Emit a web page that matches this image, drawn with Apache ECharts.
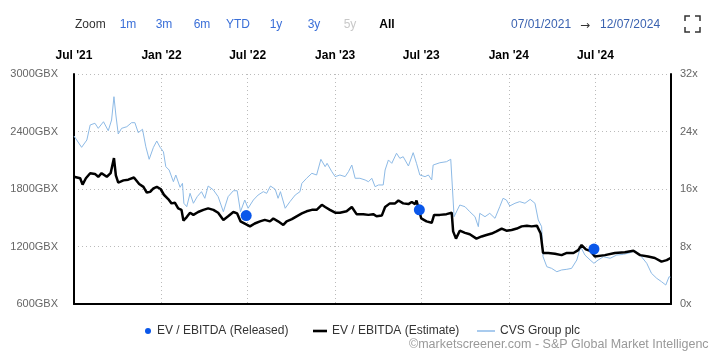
<!DOCTYPE html>
<html>
<head>
<meta charset="utf-8">
<script src="https://cdn.jsdelivr.net/npm/echarts@6/dist/echarts.min.js"></script>
<style>
html,body{margin:0;padding:0;background:#fff;}
#chart{width:709px;height:355px;}
</style>
</head>
<body>
<div id="chart"></div>
<script>
// ---- Data ----
const priceDates = ['2021-07-01','2021-07-17','2021-07-28','2021-08-04','2021-08-14','2021-08-21','2021-09-01','2021-09-11','2021-09-18','2021-09-23','2021-09-27','2021-10-02','2021-10-09','2021-10-20','2021-10-30','2021-11-06','2021-11-13','2021-11-22','2021-11-29','2021-12-06','2021-12-15','2021-12-22','2021-12-29','2022-01-05','2022-01-10','2022-01-17','2022-01-26','2022-01-31','2022-02-09','2022-02-14','2022-02-17','2022-02-23','2022-03-02','2022-03-09','2022-03-17','2022-03-26','2022-04-02','2022-04-09','2022-04-20','2022-04-30','2022-05-11','2022-05-21','2022-06-01','2022-06-09','2022-06-16','2022-06-25','2022-07-02','2022-07-13','2022-07-23','2022-08-03','2022-08-10','2022-08-18','2022-08-28','2022-09-03','2022-09-08','2022-09-18','2022-09-28','2022-10-09','2022-10-19','2022-10-23','2022-11-02','2022-11-13','2022-11-23','2022-12-02','2022-12-11','2022-12-15','2022-12-25','2023-01-01','2023-01-11','2023-01-22','2023-01-29','2023-02-05','2023-02-12','2023-02-22','2023-03-05','2023-03-12','2023-03-19','2023-03-26','2023-04-02','2023-04-12','2023-04-16','2023-04-23','2023-04-30','2023-05-10','2023-05-17','2023-05-24','2023-06-04','2023-06-14','2023-06-21','2023-06-28','2023-07-09','2023-07-16','2023-07-23','2023-07-26','2023-08-09','2023-08-23','2023-09-01','2023-09-05','2023-09-08','2023-09-20','2023-10-01','2023-10-11','2023-10-22','2023-10-29','2023-11-01','2023-11-12','2023-11-22','2023-12-03','2023-12-13','2023-12-20','2023-12-27','2024-01-03','2024-01-14','2024-01-24','2024-02-04','2024-02-15','2024-02-25','2024-03-03','2024-03-10','2024-03-13','2024-03-21','2024-03-31','2024-04-11','2024-04-21','2024-05-02','2024-05-12','2024-05-23','2024-05-31','2024-06-09','2024-06-20','2024-06-28','2024-07-07','2024-07-18','2024-08-01','2024-08-15','2024-08-29','2024-09-12','2024-09-22','2024-10-03','2024-10-17','2024-10-27','2024-11-07','2024-11-17','2024-11-26','2024-12-03','2024-12-06'];
const priceValues = [2353,2235,2311,2468,2486,2433,2502,2408,2520,2763,2572,2374,2433,2450,2492,2492,2388,2423,2241,2110,2235,2301,2235,2189,2033,1998,1876,1946,1818,1859,1651,1615,1755,1651,1720,1772,1703,1831,1790,1720,1563,1720,1782,1782,1563,1685,1599,1685,1737,1772,1755,1831,1797,1703,1772,1599,1668,1737,1772,1859,1912,1964,1946,2110,2033,2068,1981,1929,1946,1929,1981,2050,1912,1912,1894,1876,1912,1824,1842,1842,1998,2103,2068,2173,2120,2137,2040,2179,2068,1946,1929,1946,1894,2050,2074,2085,2110,2103,1511,1633,1615,1563,1511,1407,1546,1511,1546,1494,1615,1703,1685,1623,1651,1668,1651,1692,1651,1477,1407,1094,989,972,937,955,962,972,1059,1198,1111,1059,1025,1059,1094,1077,1111,1118,1135,1156,1111,1025,920,868,833,798,885,880];

const evDates = ['2021-07-01','2021-07-14','2021-07-19','2021-07-26','2021-08-04','2021-08-14','2021-08-21','2021-08-28','2021-09-08','2021-09-16','2021-09-20','2021-09-23','2021-09-27','2021-10-02','2021-10-13','2021-10-23','2021-11-04','2021-11-08','2021-11-15','2021-11-24','2021-12-01','2021-12-08','2021-12-15','2021-12-22','2021-12-30','2022-01-06','2022-01-15','2022-01-22','2022-01-29','2022-02-05','2022-02-12','2022-02-16','2022-02-23','2022-03-02','2022-03-09','2022-03-19','2022-03-30','2022-04-09','2022-04-20','2022-04-30','2022-05-11','2022-05-21','2022-06-01','2022-06-09','2022-06-16','2022-06-30','2022-07-06','2022-07-16','2022-07-27','2022-08-06','2022-08-17','2022-08-24','2022-09-03','2022-09-14','2022-09-21','2022-10-02','2022-10-12','2022-10-23','2022-11-02','2022-11-13','2022-11-23','2022-12-04','2022-12-11','2022-12-21','2023-01-01','2023-01-11','2023-01-25','2023-02-05','2023-02-15','2023-03-01','2023-03-12','2023-03-22','2023-03-29','2023-04-09','2023-04-16','2023-04-26','2023-05-07','2023-05-14','2023-05-24','2023-06-04','2023-06-11','2023-06-18','2023-06-21','2023-07-01','2023-07-12','2023-07-23','2023-07-28','2023-08-09','2023-08-23','2023-09-03','2023-09-06','2023-09-12','2023-09-20','2023-10-01','2023-10-11','2023-10-25','2023-11-05','2023-11-15','2023-11-26','2023-12-06','2023-12-17','2023-12-27','2024-01-07','2024-01-18','2024-01-28','2024-02-08','2024-02-18','2024-02-29','2024-03-08','2024-03-13','2024-03-24','2024-04-07','2024-04-21','2024-05-02','2024-05-16','2024-05-26','2024-06-02','2024-06-11','2024-06-20','2024-06-30','2024-07-21','2024-08-11','2024-09-01','2024-09-19','2024-10-03','2024-10-20','2024-11-03','2024-11-17','2024-11-28','2024-12-06'];
const evValues = [17.7,17.5,16.6,17.5,18.2,18.1,17.7,18.2,17.7,18.2,18.2,20.3,17.9,16.9,17.2,17.3,17.6,17.6,16.7,16.3,15.5,15.6,16.1,16.3,16.0,15.2,14.6,14.0,14.1,13.3,13.1,11.6,12.1,12.7,12.4,12.8,13.1,13.3,13.1,12.7,11.7,12.2,12.8,12.6,11.5,11.0,10.8,11.2,11.5,11.7,11.5,11.9,11.5,11.0,11.5,11.8,12.2,12.6,12.9,13.1,13.1,13.8,13.5,13.1,12.7,12.7,12.9,13.5,12.5,12.5,12.4,12.5,12.2,12.3,13.5,14.0,14.0,14.4,14.0,13.9,14.2,13.9,14.4,11.9,11.5,11.3,12.4,12.4,12.5,12.7,10.1,9.1,10.2,9.9,9.7,9.1,9.4,9.6,9.8,10.1,10.5,10.2,10.3,10.5,10.8,10.9,10.8,10.9,9.8,7.1,7.1,7.0,6.8,7.1,7.1,7.5,8.2,7.6,7.4,6.6,6.8,7.1,7.2,7.4,6.8,6.6,6.4,5.9,6.1,6.4];

const releasedDates = ['2022-06-28','2023-06-27','2024-06-28'];
const releasedValues = [12.3,13.1,7.65];

const xTickDates = ['2021-07-01','2022-01-01','2022-07-01','2023-01-01','2023-07-01','2024-01-01','2024-07-01'];
const xTickLabels = ["Jul '21","Jan '22","Jul '22","Jan '23","Jul '23","Jan '24","Jul '24"];

const zoomButtons = ['1m','3m','6m','YTD','1y','3y','5y'];
const dateFrom = '07/01/2021';
const dateTo = '12/07/2024';

// ---- Build ----
const P = s => Date.UTC(+s.slice(0,4), +s.slice(5,7) - 1, +s.slice(8,10));
const tickTimes = xTickDates.map(P);
const labelMap = {};
tickTimes.forEach((t, i) => { labelMap[t] = xTickLabels[i]; });
const X_MIN = P('2021-07-01'), X_MAX = P('2024-12-07');

const FONT = 'Liberation Sans, Arial, sans-serif';
const chart = echarts.init(document.getElementById('chart'), null, {renderer: 'canvas'});

const btnX = [128, 164, 202, 238, 276, 314, 350];
const graphics = [
  {type:'text', x: 75, y: 25, style:{text:'Zoom', font:'12px ' + FONT, fill:'#333', verticalAlign:'middle'}},
  ...zoomButtons.map((b, i) => ({type:'text', x: btnX[i], y: 25, style:{text:b, font:'12px ' + FONT, fill: b === '5y' ? '#c8c8c8' : '#3a6fd8', align:'center', verticalAlign:'middle'}})),
  {type:'text', x: 387, y: 25, style:{text:'All', font:'bold 12px ' + FONT, fill:'#000', align:'center', verticalAlign:'middle'}},
  {type:'text', x: 511, y: 25, style:{text:dateFrom, font:'12px ' + FONT, fill:'#3a62b0', verticalAlign:'middle'}},
  {type:'text', x: 585, y: 26, style:{text:'\u2192', font:'12px DejaVu Sans', fill:'#333', align:'center', verticalAlign:'middle'}},
  {type:'text', x: 600, y: 25, style:{text:dateTo, font:'12px ' + FONT, fill:'#3a62b0', verticalAlign:'middle'}},
  {type:'polyline', shape:{points:[[685,21],[685,16],[690,16]]}, style:{stroke:'#333', lineWidth:1.5, fill:null}},
  {type:'polyline', shape:{points:[[695,16],[700,16],[700,21]]}, style:{stroke:'#333', lineWidth:1.5, fill:null}},
  {type:'polyline', shape:{points:[[685,27],[685,32],[690,32]]}, style:{stroke:'#333', lineWidth:1.5, fill:null}},
  {type:'polyline', shape:{points:[[695,32],[700,32],[700,27]]}, style:{stroke:'#333', lineWidth:1.5, fill:null}},
  {type:'text', x: 409, y: 345, style:{text:'\u00a9marketscreener.com - S&P Global Market Intelligence', font:'12.5px ' + FONT, fill:'#999', verticalAlign:'middle'}}
];

const legendText = {fontSize: 12, color: '#333', fontFamily: FONT};
const option = {
  animation: false,
  backgroundColor: '#fff',
  textStyle: {fontFamily: FONT},
  grid: {left: 74, right: 38, top: 74, bottom: 51, containLabel: false},
  legend: [
    {left: 140, top: 320, itemWidth: 8, itemHeight: 6, textStyle: legendText,
     data: [{name: 'EV / EBITDA (Released)', icon: 'circle'}]},
    {left: 308, top: 320, itemWidth: 14, itemHeight: 6, textStyle: legendText,
     data: [{name: 'EV / EBITDA (Estimate)', icon: 'path://M0,0H14V2.6H0Z'}]},
    {left: 472, top: 320, itemWidth: 18, itemHeight: 6, textStyle: legendText,
     data: [{name: 'CVS Group plc', icon: 'path://M0,0H18V2H0Z'}]}
  ],
  xAxis: [{
    type: 'value', position: 'top',
    min: X_MIN, max: X_MAX,
    axisLine: {show: false},
    axisTick: {show: false, customValues: tickTimes},
    axisLabel: {customValues: tickTimes, margin: 12, color: '#000', fontWeight: 'bold', fontSize: 12, fontFamily: FONT,
      formatter: v => labelMap[v] || ''},
    splitLine: {show: true, lineStyle: {color: '#bbb', type: [1, 3], width: 1}}
  }, {
    type: 'value', position: 'bottom',
    min: X_MIN, max: X_MAX,
    axisLine: {show: true, onZero: false, lineStyle: {color: '#000', width: 2}},
    axisTick: {show: false}, axisLabel: {show: false}, splitLine: {show: false}
  }],
  yAxis: [{
    type: 'value', min: 600, max: 3000, interval: 600, position: 'left',
    axisLine: {show: true, lineStyle: {color: '#000', width: 2}},
    axisTick: {show: false},
    axisLabel: {formatter: v => v + 'GBX', color: '#666', fontSize: 11, margin: 16, fontFamily: FONT},
    splitLine: {show: true, lineStyle: {color: '#bbb', type: [1, 3], width: 1}}
  }, {
    type: 'value', min: 0, max: 32, interval: 8, position: 'right',
    axisLine: {show: true, lineStyle: {color: '#000', width: 2}},
    axisTick: {show: false},
    axisLabel: {formatter: v => v + 'x', color: '#666', fontSize: 11, margin: 9, fontFamily: FONT},
    splitLine: {show: false}
  }],
  series: [
    {
      name: 'CVS Group plc', type: 'line', xAxisIndex: 0, yAxisIndex: 0,
      symbol: 'none', z: 2,
      lineStyle: {color: '#8dbae6', width: 1},
      itemStyle: {color: '#a9cbee'},
      data: priceDates.map((d, i) => [P(d), priceValues[i]])
    },
    {
      name: 'EV / EBITDA (Estimate)', type: 'line', xAxisIndex: 0, yAxisIndex: 1,
      symbol: 'none', z: 3,
      lineStyle: {color: '#000', width: 2.5},
      itemStyle: {color: '#000'},
      data: evDates.map((d, i) => [P(d), evValues[i]])
    },
    {
      name: 'EV / EBITDA (Released)', type: 'scatter', xAxisIndex: 0, yAxisIndex: 1,
      symbolSize: 11, z: 4,
      itemStyle: {color: '#0a57ea', opacity: 1},
      data: releasedDates.map((d, i) => [P(d), releasedValues[i]])
    }
  ],
  graphic: graphics
};
chart.setOption(option);
</script>
</body>
</html>
